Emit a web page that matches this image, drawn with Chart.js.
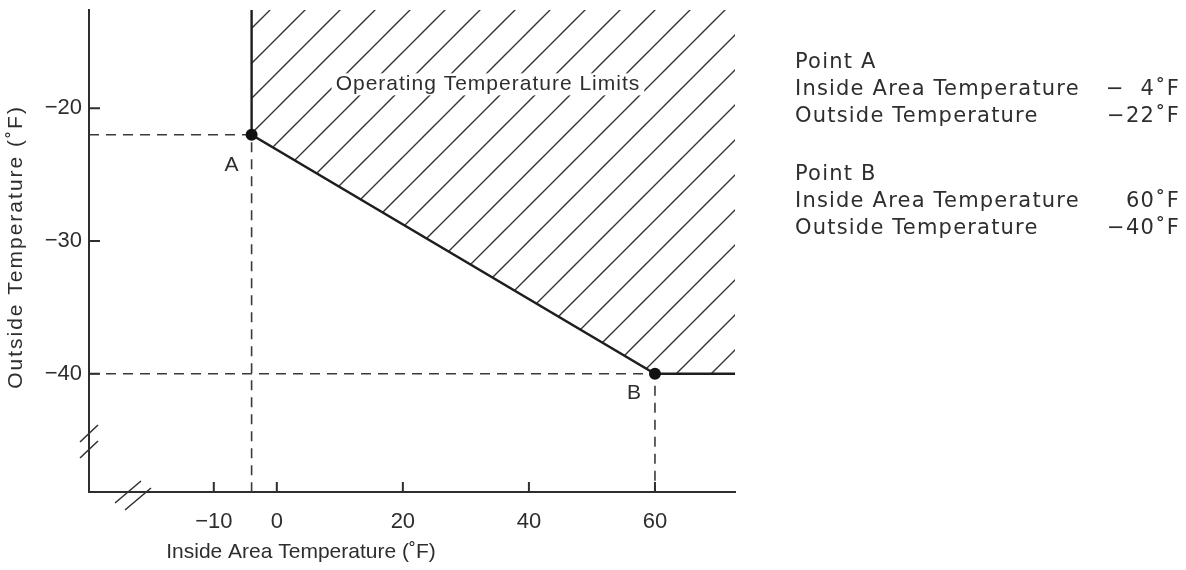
<!DOCTYPE html>
<html lang="en">
<head>
    <meta charset="UTF-8">
    <title>Operating Temperature Limits</title>
    <style>
        body {
            margin: 0;
            background: #fff;
            font-family: "Liberation Sans", Arial, sans-serif;
            color: #2e2e2e;
        }
        .wrap {
            position: relative;
            width: 1186px;
            height: 570px;
        }
        .notes {
            position: absolute;
            left: 795px;
            width: 385px;
            font-family: "DejaVu Sans", sans-serif;
            font-size: 21px;
            line-height: 27px;
            letter-spacing: 1.2px;
        }
        .notes .row {
            display: flex;
            justify-content: space-between;
        }
    </style>
</head>
<body>
    <div class="wrap">
        <canvas id="chart" width="1186" height="570"></canvas>
        <div class="notes" style="top:48px">
            <div>Point A</div>
            <div class="row"><span>Inside Area Temperature</span><span>−&nbsp;&nbsp;4˚F</span></div>
            <div class="row"><span>Outside Temperature</span><span>−22˚F</span></div>
        </div>
        <div class="notes" style="top:160px">
            <div>Point B</div>
            <div class="row"><span>Inside Area Temperature</span><span>60˚F</span></div>
            <div class="row"><span>Outside Temperature</span><span>−40˚F</span></div>
        </div>
    </div>

    <script src="https://cdn.jsdelivr.net/npm/chart.js"></script>
    <script>
        // points A and B (inside area temp, outside temp)
        const pointNames = ['A', 'B'];
        const insideTemp = [-4, 60];
        const outsideTemp = [-22, -40];

        // tick labels
        const xTicks = [-10, 0, 20, 40, 60];
        const yTicks = [-40, -30, -20];

        // axis ranges
        const X_MIN = -29.8, X_MAX = 72.7;
        const Y_MIN = -48.9, Y_MAX = -12.6;

        const INK = '#2e2e2e';
        const FONT = '"Liberation Sans", Arial, sans-serif';

        const minus = v => v < 0 ? '−' + Math.abs(v) : String(v);

        // diagonal hatching
        function makeHatch() {
            const s = 35;
            const c = document.createElement('canvas');
            c.width = s; c.height = s;
            const g = c.getContext('2d');
            g.strokeStyle = '#333';
            g.lineWidth = 1.4;
            g.beginPath();
            g.moveTo(0, s); g.lineTo(s, 0);
            g.moveTo(-2, 2); g.lineTo(2, -2);
            g.moveTo(s - 2, s + 2); g.lineTo(s + 2, s - 2);
            g.stroke();
            return g.createPattern(c, 'repeat');
        }

        const boundary = [
            { x: insideTemp[0], y: Y_MAX },
            { x: insideTemp[0], y: outsideTemp[0] },
            { x: insideTemp[1], y: outsideTemp[1] },
            { x: X_MAX, y: outsideTemp[1] }
        ];

        const guideA = [
            { x: X_MIN, y: outsideTemp[0] },
            { x: insideTemp[0], y: outsideTemp[0] },
            { x: insideTemp[0], y: Y_MIN }
        ];
        const guideB = [
            { x: X_MIN, y: outsideTemp[1] },
            { x: insideTemp[1], y: outsideTemp[1] },
            { x: insideTemp[1], y: Y_MIN }
        ];

        const points = insideTemp.map((x, i) => ({ x: x, y: outsideTemp[i] }));

        const decorations = {
            id: 'decorations',
            afterDraw(chart) {
                const ctx = chart.ctx;
                const xs = chart.scales.x, ys = chart.scales.y;
                const area = chart.chartArea;
                ctx.save();
                ctx.strokeStyle = INK;
                ctx.fillStyle = INK;

                // inside tick marks
                ctx.lineWidth = 2;
                ctx.beginPath();
                xTicks.forEach(v => {
                    const px = xs.getPixelForValue(v);
                    ctx.moveTo(px, area.bottom);
                    ctx.lineTo(px, area.bottom - 10);
                });
                yTicks.forEach(v => {
                    const py = ys.getPixelForValue(v);
                    ctx.moveTo(area.left, py);
                    ctx.lineTo(area.left + 11, py);
                });
                ctx.stroke();

                // axis break marks
                ctx.lineWidth = 1.5;
                ctx.beginPath();
                [442, 458].forEach(y => {
                    ctx.moveTo(area.left - 9, y);
                    ctx.lineTo(area.left + 9, y - 17);
                });
                [[115, 503], [125, 510]].forEach(([x, y]) => {
                    ctx.moveTo(x, y);
                    ctx.lineTo(x + 26, y - 22);
                });
                ctx.stroke();

                // point labels
                ctx.font = '21px ' + FONT;
                ctx.textAlign = 'center';
                ctx.textBaseline = 'middle';
                const offs = [[-20, 30], [-21, 19]];
                pointNames.forEach((n, i) => {
                    const px = xs.getPixelForValue(insideTemp[i]);
                    const py = ys.getPixelForValue(outsideTemp[i]);
                    ctx.fillText(n, px + offs[i][0], py + offs[i][1]);
                });

                // region label
                ctx.letterSpacing = '1px';
                const label = 'Operating Temperature Limits';
                const lx = xs.getPixelForValue(33.5), ly = ys.getPixelForValue(-18.2);
                const w = ctx.measureText(label).width;
                ctx.fillStyle = '#fff';
                ctx.fillRect(lx - w / 2 - 4, ly - 11, w + 8, 22);
                ctx.fillStyle = INK;
                ctx.fillText(label, lx, ly);

                // axis titles
                ctx.letterSpacing = '0px';
                ctx.fillText('Inside Area Temperature (˚F)', 301, 552);
                ctx.save();
                ctx.translate(16, 247);
                ctx.rotate(-Math.PI / 2);
                ctx.letterSpacing = '2px';
                ctx.fillText('Outside Temperature (˚F)', 0, 0);
                ctx.restore();

                ctx.restore();
            }
        };

        new Chart(document.getElementById('chart'), {
            type: 'line',
            data: {
                datasets: [
                    {
                        data: points,
                        showLine: false,
                        pointRadius: 6,
                        pointBackgroundColor: '#111',
                        pointBorderWidth: 0,
                        order: 0
                    },
                    {
                        data: boundary,
                        borderColor: '#1e1e1e',
                        borderWidth: 2.4,
                        pointRadius: 0,
                        fill: false,
                        order: 1
                    },
                    {
                        data: guideA,
                        borderColor: '#3a3a3a',
                        borderWidth: 1.6,
                        borderDash: [10, 7],
                        pointRadius: 0,
                        fill: false,
                        order: 2
                    },
                    {
                        data: guideB,
                        borderColor: '#3a3a3a',
                        borderWidth: 1.6,
                        borderDash: [10, 7],
                        pointRadius: 0,
                        fill: false,
                        order: 2
                    },
                    {
                        data: boundary,
                        borderWidth: 0,
                        pointRadius: 0,
                        backgroundColor: makeHatch(),
                        fill: 'end',
                        order: 3
                    }
                ]
            },
            options: {
                responsive: false,
                animation: false,
                layout: { padding: { top: 10, right: 451, left: 0, bottom: 0 } },
                plugins: {
                    legend: { display: false },
                    tooltip: { enabled: false }
                },
                scales: {
                    x: {
                        type: 'linear',
                        min: X_MIN,
                        max: X_MAX,
                        afterBuildTicks: s => { s.ticks = xTicks.map(v => ({ value: v })); },
                        afterFit: s => {
                            s.height = 78;
                            s.paddingLeft = 0; s.paddingRight = 0;
                        },
                        grid: { display: false, drawTicks: false },
                        border: { display: true, color: INK, width: 2 },
                        ticks: {
                            callback: minus,
                            color: INK,
                            padding: 17,
                            maxRotation: 0,
                            font: { family: FONT, size: 22 }
                        }
                    },
                    y: {
                        type: 'linear',
                        min: Y_MIN,
                        max: Y_MAX,
                        afterBuildTicks: s => { s.ticks = yTicks.map(v => ({ value: v })); },
                        afterFit: s => {
                            s.width = 89;
                            s.paddingTop = 0; s.paddingBottom = 0;
                        },
                        grid: { display: false, drawTicks: false },
                        border: { display: true, color: INK, width: 2 },
                        ticks: {
                            callback: minus,
                            color: INK,
                            padding: 7,
                            font: { family: FONT, size: 22 }
                        }
                    }
                }
            },
            plugins: [decorations]
        });
    </script>
</body>
</html>
